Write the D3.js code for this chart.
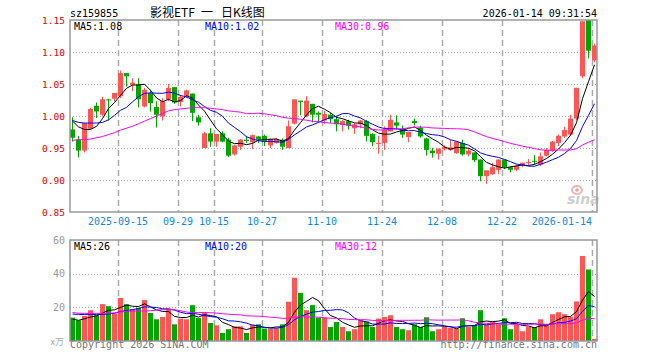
<!DOCTYPE html>
<html>
<head>
<meta charset="utf-8">
<script src="https://cdn.jsdelivr.net/npm/d3@7"></script>
<style>
  body { margin: 0; background: #fff; }
  text { font-family: "DejaVu Sans Mono", monospace; }
</style>
</head>
<body>
<svg id="chart" width="660" height="360"></svg>
<script>
// Trading days on the chart, 2025-09-03 .. 2026-01-14
var dates = [
  "2025-09-03","2025-09-04","2025-09-05","2025-09-08","2025-09-09","2025-09-10","2025-09-11","2025-09-12",
  "2025-09-15","2025-09-16","2025-09-17","2025-09-18","2025-09-19","2025-09-22","2025-09-23","2025-09-24",
  "2025-09-25","2025-09-26","2025-09-29","2025-09-30","2025-10-09","2025-10-10","2025-10-13","2025-10-14",
  "2025-10-15","2025-10-16","2025-10-17","2025-10-20","2025-10-21","2025-10-22","2025-10-23","2025-10-24",
  "2025-10-27","2025-10-28","2025-10-29","2025-10-30","2025-10-31","2025-11-03","2025-11-04","2025-11-05",
  "2025-11-06","2025-11-07","2025-11-10","2025-11-11","2025-11-12","2025-11-13","2025-11-14","2025-11-17",
  "2025-11-18","2025-11-19","2025-11-20","2025-11-21","2025-11-24","2025-11-25","2025-11-26","2025-11-27",
  "2025-11-28","2025-12-01","2025-12-02","2025-12-03","2025-12-04","2025-12-05","2025-12-08","2025-12-09",
  "2025-12-10","2025-12-11","2025-12-12","2025-12-15","2025-12-16","2025-12-17","2025-12-18","2025-12-19",
  "2025-12-22","2025-12-23","2025-12-24","2025-12-25","2025-12-26","2025-12-29","2025-12-30","2025-12-31",
  "2026-01-05","2026-01-06","2026-01-07","2026-01-08","2026-01-09","2026-01-12","2026-01-13","2026-01-14"
];

var open = [
  .979,.963,.946,.980,1.016,1.002,1.026,1.027,1.031,1.067,1.049,1.049,1.015,1.036,1.014,.9995,
  1.026,1.045,1.022,1.031,1.035,.998,.950,.973,.960,.973,.963,.940,.952,.963,.959,.968,
  .969,.954,.958,.963,.950,.988,1.024,1.000,1.019,1.005,.993,1.002,.995,.986,.992,.981,
  .987,.992,.972,.957,.958,.976,.990,.979,.967,.992,.982,.965,.946,.941,.948,.947,
  .942,.958,.940,.943,.932,.906,.909,.916,.932,.920,.916,.924,.927,.930,.924,.938,
  .946,.958,.968,.971,.996,1.062,1.160,1.087
];
var high = [
  .998,.969,.989,1.013,1.021,1.030,1.027,1.036,1.071,1.067,1.059,1.059,1.044,1.041,1.023,1.028,
  1.050,1.045,1.033,1.041,1.035,1.002,.975,.981,.972,.976,.966,.955,.964,.969,.971,.969,
  .971,.965,.965,.965,.993,1.026,1.024,1.031,1.019,1.007,1.008,1.005,1.000,.994,.994,.989,
  .994,.994,.973,.969,.984,1.002,1.001,.985,.975,.996,.985,.966,.950,.949,.954,.963,
  .961,.963,.950,.943,.932,.915,.927,.932,.932,.921,.924,.927,.933,.939,.943,.950,
  .961,.971,.983,1.002,1.044,1.148,1.175,1.113
];
var low = [
  .960,.935,.943,.979,.997,.9995,.993,1.023,1.028,1.046,1.039,1.0135,1.0135,1.007,.982,.993,
  1.023,1.019,1.015,1.028,.992,.985,.950,.952,.952,.959,.936,.938,.947,.958,.948,.958,
  .953,.950,.957,.947,.950,.987,1.001,.998,.990,.990,.988,.989,.976,.976,.979,.972,
  .981,.960,.953,.941,.947,.976,.979,.966,.959,.985,.966,.938,.935,.932,.946,.945,
  .941,.938,.937,.928,.898,.894,.908,.909,.917,.912,.914,.920,.923,.924,.922,.937,
  .944,.953,.966,.969,.994,1.059,1.090,1.084
];
var close = [
  .966,.946,.989,1.011,1.007,1.026,1.025,1.036,1.067,1.062,1.052,1.026,1.041,1.020,1.002,1.023,
  1.044,1.021,1.030,1.040,1.005,.990,.973,.960,.972,.960,.938,.954,.963,.961,.970,.963,
  .960,.964,.964,.952,.984,1.026,1.022,1.024,1.002,1.002,1.003,.995,.987,.992,.985,.987,
  .993,.969,.959,.958,.979,.994,.985,.971,.975,.989,.968,.947,.942,.949,.952,.951,
  .960,.940,.946,.931,.906,.915,.920,.932,.920,.916,.922,.927,.928,.929,.937,.947,
  .960,.969,.978,.996,1.044,1.148,1.102,1.110
];
// volume, 万手
var volume = [
  13.9,12.3,14.9,18.3,15.3,21.9,20.7,16.3,25.6,21.9,18.9,19.7,24.3,16.7,12.9,14.3,
  19.3,9.9,13.3,12.9,21.3,13.7,16.9,10.7,9.3,4.8,7.0,8.7,8.7,4.8,9.7,9.9,
  7.4,7.4,7.4,9.9,23.3,37.6,28.6,18.3,21.3,13.9,13.9,8.3,11.3,8.3,5.8,7.0,
  12.3,11.7,8.3,13.3,14.3,15.3,8.3,7.0,6.4,9.9,8.3,14.1,5.8,7.0,8.3,7.8,
  7.4,13.5,8.3,9.3,18.3,9.9,11.7,9.9,13.5,7.0,9.9,5.8,8.3,8.3,12.9,9.7,
  15.9,17.1,15.9,14.5,23.5,50.5,42.5,1.3
];

// MA values of the first days (their windows start before the chart)
var ma5Head = [.992,.983,.979,.979];
var ma10Head = [.993,.990,.989,.989,.989,.990,.994,1.001,1.009];
var ma30Head = [.962,.963,.963,.964,.966,.968,.971,.974,.978,.981,.984,.988,.992,.996,1.000,
  1.004,1.008,1.010,1.011,1.012,1.013,1.013,1.013,1.012,1.011,1.010,1.008,1.007,1.006];
var vma5Head = [13.0,12.3,13.2,14.2];
var vma10Head = [16.0,15.8,15.7,15.7,15.7,15.8,16.0,16.5,17.5];
var vma30Head = [16.9,16.5,16.4,16.4,16.4,16.4,16.5,16.7,17.3,17.6,17.8,17.8,17.8,18.0,18.3,
  18.6,18.8,18.6,18.0,17.2,16.9,16.9,16.9,16.8,16.6,16.2,15.9,15.7,15.5];

var priceTicks = [0.85, 0.90, 0.95, 1.00, 1.05, 1.10, 1.15];
var volTicks = [20, 40, 60];
var tickDates = ["2025-09-15","2025-09-29","2025-10-15","2025-10-27","2025-11-10",
  "2025-11-24","2025-12-08","2025-12-22","2026-01-14"];
var priceLegend = ["MA5:1.08", "MA10:1.02", "MA30:0.96"];
var volLegend = ["MA5:26", "MA10:20", "MA30:12"];

var RED = "#ff5555", GREEN = "#00a600";
var maColors = ["#000", "#0000ff", "#ff00ff"];

var svg = d3.select("#chart");
var left = 70, right = 597;
var pTop = 20, pBottom = 212, vTop = 240, vBottom = 341;

var x = d3.scaleBand().domain(dates).range([left, right]).paddingInner(1 / 6).paddingOuter(0);
var y = d3.scaleLinear().domain([0.85, 1.15]).range([pBottom, pTop]);
var yv = d3.scaleLinear().domain([0, 60]).range([vBottom, vTop]);

function movingAvg(values, n, head) {
  return values.map(function (v, i) {
    if (i < n - 1) return head[i];
    return d3.mean(values.slice(i - n + 1, i + 1));
  });
}

var isUp = close.map(function (c, i) { return c >= open[i]; });

// clip for the price panel
svg.append("clipPath").attr("id", "pclip")
  .append("rect").attr("x", left).attr("y", pTop).attr("width", right - left).attr("height", pBottom - pTop);

// ---------- grids ----------
var grid = svg.append("g");
grid.selectAll(".hp").data(priceTicks.slice(1, -1)).enter().append("line")
  .attr("x1", left).attr("x2", right)
  .attr("y1", function (d) { return Math.round(y(d)) + 0.5; })
  .attr("y2", function (d) { return Math.round(y(d)) + 0.5; })
  .attr("stroke", "#aaa").attr("stroke-dasharray", "1,2");
grid.selectAll(".hv").data(volTicks.slice(0, -1)).enter().append("line")
  .attr("x1", left).attr("x2", right)
  .attr("y1", function (d) { return Math.round(yv(d)) + 0.5; })
  .attr("y2", function (d) { return Math.round(yv(d)) + 0.5; })
  .attr("stroke", "#aaa").attr("stroke-dasharray", "1,2");

[[pTop, pBottom], [vTop, vBottom]].forEach(function (r) {
  grid.selectAll(null).data(tickDates).enter().append("line")
    .attr("x1", function (d) { return x(d) + 0.5; })
    .attr("x2", function (d) { return x(d) + 0.5; })
    .attr("y1", r[0]).attr("y2", r[1])
    .attr("stroke", "#aaa").attr("stroke-width", 1.5).attr("stroke-dasharray", "6,4");
});

// sina watermark
var wm = svg.append("g");
wm.append("ellipse").attr("cx", 577).attr("cy", 190).attr("rx", 5).attr("ry", 4)
  .attr("fill", "none").attr("stroke", "#f2b3b3").attr("stroke-width", 2);
wm.append("circle").attr("cx", 577).attr("cy", 190).attr("r", 1.8).attr("fill", "#e9a0a0");
wm.append("text").attr("x", 567).attr("y", 204)
  .style("font-family", "'DejaVu Sans', sans-serif").style("font-weight", "bold")
  .style("font-style", "italic").style("font-size", "14px")
  .attr("fill", "#cfcfcf").text("sina");

// ---------- candles ----------
var candles = svg.append("g").attr("clip-path", "url(#pclip)");
var cg = candles.selectAll(".c").data(dates).enter().append("g");
cg.append("rect")
  .attr("x", function (d) { return x(d) + 2; })
  .attr("width", 1)
  .attr("y", function (d, i) { return y(high[i]); })
  .attr("height", function (d, i) { return Math.max(1, y(low[i]) - y(high[i])); })
  .attr("fill", function (d, i) { return isUp[i] ? RED : GREEN; });
cg.append("rect")
  .attr("x", function (d) { return x(d); })
  .attr("width", x.bandwidth())
  .attr("y", function (d, i) { return y(Math.max(open[i], close[i])); })
  .attr("height", function (d, i) { return Math.max(1, Math.abs(y(open[i]) - y(close[i]))); })
  .attr("fill", function (d, i) { return isUp[i] ? RED : GREEN; });

// price MAs
var priceMAs = [movingAvg(close, 5, ma5Head), movingAvg(close, 10, ma10Head), movingAvg(close, 30, ma30Head)];
var pline = d3.line()
  .x(function (d, i) { return x(dates[i]) + 2.5; })
  .y(function (d) { return y(d); });
priceMAs.forEach(function (ma, k) {
  candles.append("path").attr("d", pline(ma))
    .attr("fill", "none").attr("stroke", maColors[k]).attr("stroke-width", 1);
});

// ---------- volume ----------
var vol = svg.append("g");
vol.selectAll(".v").data(dates).enter().append("rect")
  .attr("x", function (d) { return x(d); })
  .attr("width", x.bandwidth())
  .attr("y", function (d, i) { return yv(volume[i]); })
  .attr("height", function (d, i) { return vBottom - yv(volume[i]); })
  .attr("fill", function (d, i) { return isUp[i] ? RED : GREEN; });

var volMAs = [movingAvg(volume, 5, vma5Head), movingAvg(volume, 10, vma10Head), movingAvg(volume, 30, vma30Head)];
var vline = d3.line()
  .x(function (d, i) { return x(dates[i]) + 2.5; })
  .y(function (d) { return yv(d); });
volMAs.forEach(function (ma, k) {
  vol.append("path").attr("d", vline(ma))
    .attr("fill", "none").attr("stroke", maColors[k]).attr("stroke-width", 1);
});

// ---------- frames ----------
svg.append("rect").attr("x", left).attr("y", pTop).attr("width", right - left).attr("height", pBottom - pTop)
  .attr("fill", "none").attr("stroke", "#999").attr("stroke-width", 1.5);
svg.append("rect").attr("x", left).attr("y", vTop).attr("width", right - left).attr("height", vBottom - vTop)
  .attr("fill", "none").attr("stroke", "#999").attr("stroke-width", 1.5);

// ---------- labels ----------
svg.selectAll(".pl").data(priceTicks).enter().append("text")
  .attr("x", 65).attr("y", function (d) { return y(d) + 3.5; })
  .attr("text-anchor", "end").attr("fill", "#e00000").style("font-size", "9.5px")
  .text(function (d) { return d.toFixed(2); });

svg.selectAll(".vl").data(volTicks).enter().append("text")
  .attr("x", 65).attr("y", function (d) { return yv(d) + 3.5; })
  .attr("text-anchor", "end").attr("fill", "#999").style("font-size", "10px")
  .text(function (d) { return d; });
svg.append("text").attr("x", 64).attr("y", 345).attr("text-anchor", "end")
  .attr("fill", "#aaa").style("font-size", "9px")
  .style("font-family", "'Noto Sans CJK SC', sans-serif").text("x万");

svg.selectAll(".xl").data(tickDates).enter().append("text")
  .attr("x", function (d) { return x(d); })
  .attr("y", 225)
  .attr("text-anchor", function (d) { return x(d) + 30 > right ? "end" : "middle"; })
  .attr("fill", "#1188dd").style("font-size", "10px")
  .text(function (d, i) {
    return (i === 0 || i === tickDates.length - 1) ? d : d.slice(5);
  });

var legX = [74, 205, 335];
priceLegend.forEach(function (t, k) {
  svg.append("text").attr("x", legX[k]).attr("y", 29.5)
    .attr("fill", maColors[k]).style("font-size", "10px").text(t);
});
volLegend.forEach(function (t, k) {
  svg.append("text").attr("x", legX[k]).attr("y", 250)
    .attr("fill", maColors[k]).style("font-size", "10px").text(t);
});

svg.append("text").attr("x", 70).attr("y", 17).style("font-size", "10px").attr("fill", "#000").text("sz159855");
// title, pieces placed apart like the original's wide spacing
var title = svg.append("text").attr("y", 17)
  .style("font-family", "'Noto Sans CJK SC', sans-serif").style("font-size", "12px").attr("fill", "#000");
title.append("tspan").attr("x", 150).text("影视ETF");
title.append("tspan").attr("x", 201).text("一");
title.append("tspan").attr("x", 221).text("日K线图");
svg.append("text").attr("x", 597).attr("y", 17).attr("text-anchor", "end")
  .style("font-size", "10px").attr("fill", "#000").text("2026-01-14 09:31:54");

svg.append("text").attr("x", 70).attr("y", 348).style("font-size", "10px").attr("fill", "#777")
  .text("Copyright 2026 SINA.COM");
svg.append("text").attr("x", 597).attr("y", 348).attr("text-anchor", "end")
  .style("font-size", "10px").attr("fill", "#777").text("http://finance.sina.com.cn");
</script>
</body>
</html>
